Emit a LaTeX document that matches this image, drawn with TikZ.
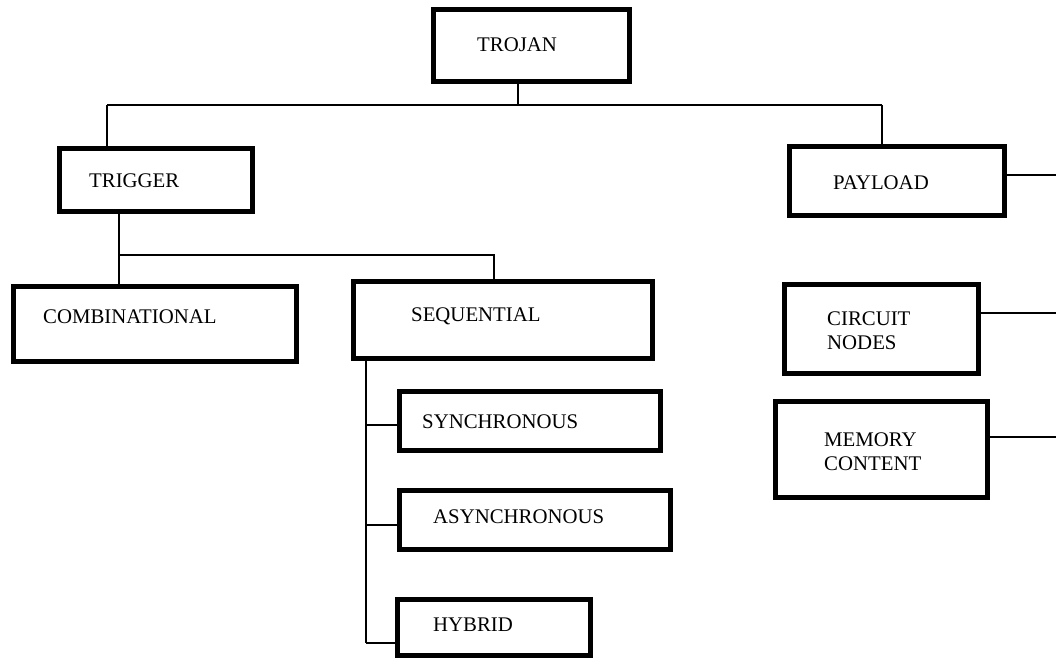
\documentclass[tikz,border=0pt]{standalone}
\usepackage{fontspec}
\setmainfont{Liberation Serif}
\begin{document}
\begin{tikzpicture}[x=1pt,y=-1pt,
  box/.style={draw=black,line width=5pt,minimum width=#1,inner sep=0pt},
  lbl/.style={anchor=base west,inner sep=0pt,font=\fontsize{20.8}{24}\selectfont,align=left},
  conn/.style={draw=black,line width=1.3pt}]
\useasboundingbox (0,0) rectangle (1056,660);
% boxes
\node[box=196pt,minimum height=72pt] (trojan) at (531.5,45.5) {};
\node[box=193pt,minimum height=63pt] (trigger) at (156,180) {};
\node[box=215pt,minimum height=69pt] (payload) at (897,181) {};
\node[box=283pt,minimum height=75pt] (comb) at (155,324) {};
\node[box=299pt,minimum height=77pt] (seq) at (503,320) {};
\node[box=261pt,minimum height=59pt] (sync) at (530,421) {};
\node[box=271pt,minimum height=59pt] (async) at (535,520) {};
\node[box=193pt,minimum height=56pt] (hybrid) at (494,627.5) {};
\node[box=194pt,minimum height=89pt] (circ) at (881.5,329) {};
\node[box=212pt,minimum height=96pt] (mem) at (881.5,449.5) {};
% texts
\node[lbl] (trojan-t) at (477,51.5) {TROJAN};
\node[lbl] (trigger-t) at (89,188) {TRIGGER};
\node[lbl] (payload-t) at (833,190) {PAYLOAD};
\node[lbl] (comb-t) at (43,323) {COMBINATIONAL};
\node[lbl] (seq-t) at (411,321) {SEQUENTIAL};
\node[lbl] (sync-t) at (422,428) {SYNCHRONOUS};
\node[lbl] (async-t) at (433,523) {ASYNCHRONOUS};
\node[lbl] (hybrid-t) at (433,631) {HYBRID};
\node[lbl] (circ-t) at (827,349) {CIRCUIT\\NODES};
\node[lbl] (mem-t) at (824,470) {MEMORY\\CONTENT};
% connector coordinates
\coordinate (top) at (518,105);
\coordinate (tl) at (107,105);
\coordinate (tr) at (882,105);
\coordinate (tg) at (119,255);
\coordinate (tgr) at (494,255);
\coordinate (sq) at (366,643);
\coordinate (pe) at (1056,175);
\coordinate (ce) at (1056,313);
\coordinate (me) at (1056,437);
% connectors
\draw[conn] (trojan.south -| top) -- (top);
\draw[conn] (tl) -- (tr);
\draw[conn] (tl) -- (tl |- trigger.north);
\draw[conn] (tr) -- (tr |- payload.north);
\draw[conn] (trigger.south -| tg) -- (tg |- comb.north);
\draw[conn] (tg) -- (tgr) -- (tgr |- seq.north);
\draw[conn] (seq.south -| sq) -- (sq);
\draw[conn] (sq |- 0,425) -- (sync.west |- 0,425);
\draw[conn] (sq |- 0,525) -- (async.west |- 0,525);
\draw[conn] (sq) -- (hybrid.west |- sq);
\draw[conn] (payload.east |- pe) -- (pe);
\draw[conn] (circ.east |- ce) -- (ce);
\draw[conn] (mem.east |- me) -- (me);
\end{tikzpicture}
\end{document}
